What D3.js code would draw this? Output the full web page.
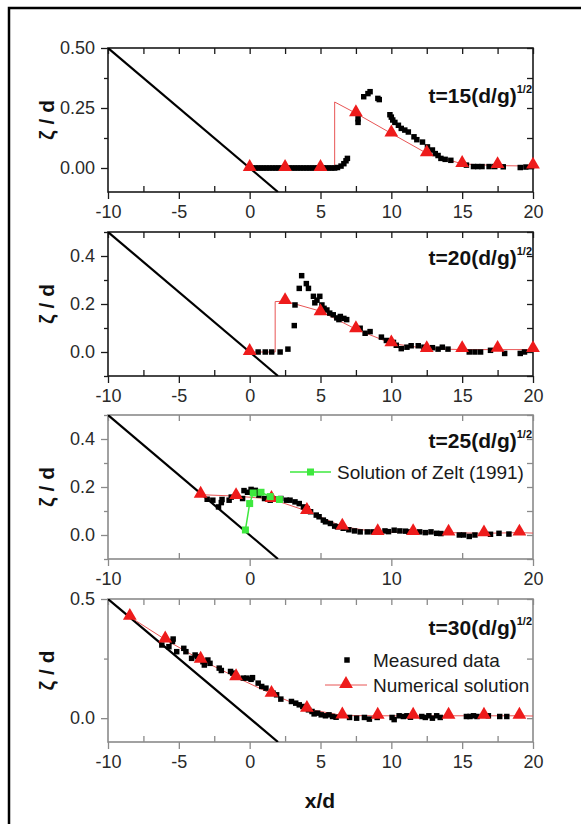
<!DOCTYPE html>
<html><head><meta charset="utf-8">
<script src="https://cdn.jsdelivr.net/npm/d3@7"></script>
<style>body{margin:0;background:#fff} text{font-family:"Liberation Sans",Arial,sans-serif}</style>
</head><body><svg id="c" width="581" height="824"></svg>
<script>
// ---------------- DATA ----------------
const shoreline = [[-10, 0.5], [2, -0.1]];

const xTicksA = [-10, -5, 0, 5, 10, 15, 20];
const xMinorA = [-7.5, -2.5, 2.5, 7.5, 12.5, 17.5];
const xTicksB = [-10, 0, 10, 20];
const xMinorB = [-5, 5, 15];

const yTicks15 = [0, 0.25, 0.5];
const yMinor15 = [0.125, 0.375];
const yTicks20 = [0, 0.2, 0.4];
const yMinor20 = [-0.1, 0.1, 0.3, 0.5];
const yTicks30 = [0, 0.5];
const yMinor30 = [0.25];

const titles = ["t=15", "t=20", "t=25", "t=30"];

const measured15 = [[0.2,0],[0.4,0],[0.6,0],[0.8,0],[1.0,0],[1.2,0],[1.4,0],[1.6,0],[1.8,0],[2.0,0],[2.2,0],[2.4,0],[2.6,0],[2.8,0],[3.0,0],[3.2,0],[3.4,0],[3.6,0],[3.8,0],[4.0,0],[4.2,0],[4.4,0],[4.6,0],[4.8,0],[5.0,0],[5.2,0],[5.4,0],[5.6,0],[5.8,0],[6.0,0],[6.2,0.002],
[6.45,0.008],[6.65,0.018],[6.8,0.03],[6.9,0.04],
[7.65,0.19],[7.65,0.205],[8.05,0.297],[8.35,0.31],[8.5,0.318],[9.05,0.29],[9.15,0.285],
[9.9,0.222],[10.0,0.212],[10.1,0.2],[10.25,0.19],[10.5,0.178],[10.7,0.165],[10.95,0.158],[11.2,0.15],[11.6,0.13],[11.8,0.118],[12.2,0.108],[12.55,0.088],[12.9,0.075],[13.1,0.06],[13.3,0.052],[13.5,0.04],[13.8,0.036],[14.2,0.032],
[15.3,0.012],[15.8,0.006],[16.1,0.006],[16.4,0.006],[16.9,0.006],[17.3,0.006],[17.9,0.005],[19.1,0.002],[19.5,0.004],[19.9,0.006]];
const num15Line = [[0,0],[2.5,0],[5,0],[6,0],[6,0.275],[7.5,0.228],[10,0.144],[12.5,0.061],[15,0.017],[17.5,0.01],[20,0.008]];
const num15Marks = [[0,0],[2.5,0],[5,0],[7.5,0.228],[10,0.144],[12.5,0.061],[15,0.017],[17.5,0.012],[20,0.01]];

const measured20 = [[0.6,0],[1.1,0],[1.55,0],[2.15,0],[2.7,0.012],[3.15,0.11],[3.2,0.196],[3.5,0.265],[3.67,0.318],[4.0,0.285],[4.15,0.265],[4.5,0.232],[4.6,0.205],[4.75,0.216],[4.95,0.232],[5.1,0.196],[5.25,0.182],[5.45,0.175],[5.65,0.162],[5.9,0.155],[6.15,0.142],[6.3,0.135],[6.4,0.148],[6.65,0.14],[6.85,0.135],[7.8,0.099],[8.15,0.078],[8.5,0.085],[9.3,0.062],[9.65,0.048],[10.15,0.04],[10.35,0.028],[10.7,0.014],[11.1,0.02],[11.4,0.026],[11.9,0.026],[12.3,0.02],[12.9,0.018],[13.3,0.012],[13.6,0.02],[14.0,0.012],[15.5,0.0],[15.9,0],[16.3,0],[17.0,0.007],[18.0,-0.006],[19.1,-0.006],[19.4,0]];
const num20Line = [[0,0],[1.8,0],[1.8,0.21],[2.5,0.212],[5,0.17],[7.5,0.095],[10,0.036],[12.5,0.014],[15,0.01],[17.5,0.01],[20,0.01]];
const num20Marks = [[0,0],[2.5,0.212],[5,0.165],[7.5,0.095],[10,0.036],[12.5,0.012],[15,0.012],[17.5,0.013],[20,0.012]];

const measured25 = [[-3.0,0.149],[-2.6,0.145],[-2.2,0.117],[-2.0,0.135],[-1.95,0.148],[-1.45,0.145],[-1.3,0.158],[-0.5,0.152],[-0.4,0.185],[-0.15,0.178],[0.1,0.19],[0.4,0.186],[0.65,0.166],[1.05,0.152],[1.45,0.145],[1.8,0.15],[2.2,0.152],[2.6,0.145],[2.85,0.145],[3.2,0.138],[3.5,0.131],[3.8,0.117],[4.05,0.11],[4.3,0.097],[4.7,0.083],[4.9,0.076],[5.2,0.062],[5.35,0.055],[5.7,0.048],[6.0,0.037],[6.2,0.034],[6.6,0.028],[7.0,0.022],[7.4,0.017],[7.8,0.013],[8.3,0.013],[8.7,0.013],[9.55,0.017],[9.8,0.014],[10.2,0.02],[10.6,0.017],[11.0,0.016],[11.25,0.013],[12.0,0.013],[12.4,0.01],[12.8,0.013],[13.2,0.007],[13.5,0.006],[14.8,0.0],[15.1,0.0],[15.5,-0.006],[15.9,0.0],[17.0,0.003],[17.6,0.007],[18.3,0.004]];
const num25Line = [[-3.46,0.168],[-0.96,0.162],[1.54,0.15],[4.04,0.1],[6.54,0.035],[9.04,0.012],[11.54,0.012],[14.04,0.01],[16.54,0.007],[19.04,0.01],[20,0.008]];
const num25Marks = [[-3.46,0.168],[-0.96,0.162],[1.54,0.15],[4.04,0.1],[6.54,0.035],[9.04,0.012],[11.54,0.012],[14.04,0.01],[16.54,0.007],[19.04,0.01]];
const zelt25 = [[-0.3,0.021],[0,0.131],[0.25,0.175],[0.8,0.178],[1.45,0.16],[2.1,0.148]];

const measured30 = [[-6.2,0.307],[-5.7,0.3],[-5.45,0.322],[-5.4,0.332],[-5.15,0.279],[-4.65,0.293],[-4.5,0.279],[-4.1,0.251],[-3.85,0.265],[-3.7,0.258],[-3.3,0.237],[-3.2,0.223],[-2.95,0.244],[-2.8,0.23],[-2.15,0.21],[-2.0,0.2],[-1.35,0.196],[-1.2,0.189],[-0.95,0.175],[-0.45,0.168],[-0.2,0.168],[0.1,0.163],[0.2,0.17],[0.6,0.147],[0.85,0.133],[1.15,0.126],[1.65,0.105],[1.9,0.098],[2.2,0.08],[2.95,0.07],[3.25,0.063],[3.5,0.056],[3.75,0.049],[4.15,0.035],[4.4,0.028],[4.55,0.018],[4.8,0.021],[5.05,0.014],[5.35,0.01],[5.6,0.014],[5.85,0.007],[6.1,0.004],[7.05,0.003],[7.55,0.0],[8.1,0.003],[8.45,-0.004],[9.0,0.003],[10.05,0.003],[10.2,-0.006],[10.55,0.01],[10.85,0.007],[11.1,0.01],[11.35,0.004],[12.15,0.007],[12.4,0.003],[12.65,0.01],[12.9,0.0],[13.2,0.01],[13.45,0.003],[15.3,0.007],[15.55,0.007],[15.8,0.01],[16.05,0.007],[16.85,0.01],[17.65,0.007],[18.15,0.007]];
const num30Line = [[-8.46,0.425],[-5.96,0.33],[-3.46,0.245],[-0.96,0.172],[1.54,0.102],[4.04,0.039],[6.54,0.011],[9.04,0.01],[11.54,0.01],[14.04,0.01],[16.54,0.01],[19.04,0.01],[20,0.009]];
const num30Marks = [[-8.46,0.425],[-5.96,0.33],[-3.46,0.245],[-0.96,0.172],[1.54,0.102],[4.04,0.039],[6.54,0.011],[9.04,0.01],[11.54,0.01],[14.04,0.01],[16.54,0.01],[19.04,0.01]];

const legendLabels = ["Solution of Zelt (1991)", "Measured data", "Numerical solution"];

// ---------------- DRAW ----------------
const svg = d3.select("#c");
svg.append("rect").attr("width", 581).attr("height", 824).attr("fill", "#fff");
svg.append("path").attr("d", "M9,824 V8 H581").attr("fill", "none").attr("stroke", "#000").attr("stroke-width", 2.5);

const L = 108, R = 533;
const RED = "#ee1b1b", REDLINE = "#e85555", GREEN = "#3ee83e";

const panels = [
  {top: 48, bottom: 192, m: measured15, nl: num15Line, nm: num15Marks, yT: yTicks15, yM: yMinor15, fmt: d3.format(".2f"), xT: xTicksA, xM: xMinorA, title: titles[0], tY: 103, col: "#1a1a1a"},
  {top: 232, bottom: 376, m: measured20, nl: num20Line, nm: num20Marks, yT: yTicks20, yM: yMinor20, fmt: d3.format(".1f"), xT: xTicksA, xM: xMinorA, title: titles[1], tY: 265, col: "#1a1a1a"},
  {top: 415, bottom: 559, m: measured25, nl: num25Line, nm: num25Marks, yT: yTicks20, yM: yMinor20, fmt: d3.format(".1f"), xT: xTicksB, xM: xMinorB, title: titles[2], tY: 448, col: "#8a8a8a", zelt: zelt25},
  {top: 599, bottom: 742, m: measured30, nl: num30Line, nm: num30Marks, yT: yTicks30, yM: yMinor30, fmt: d3.format(".1f"), xT: xTicksA, xM: xMinorA, title: titles[3], tY: 635, col: "#8a8a8a"}
];

const tri = d3.symbol().type(d3.symbolTriangle).size(82);
const sq = d3.symbol().type(d3.symbolSquare).size(30);
const xFmt = d => String(d);

panels.forEach((p, i) => {
  const x = d3.scaleLinear().domain([-10, 20]).range([L, R]);
  const y = d3.scaleLinear().domain([-0.1, 0.5]).range([p.bottom, p.top]);
  const g = svg.append("g");
  const cid = "clip" + i;
  g.append("clipPath").attr("id", cid).append("rect")
    .attr("x", L).attr("y", p.top).attr("width", R - L).attr("height", p.bottom - p.top);

  const styleAxis = (sel) => {
    sel.select(".domain").remove();
    sel.selectAll(".tick line").attr("stroke", p.col).attr("stroke-width", 1.3);
    sel.selectAll(".tick text").attr("fill", "#2a2a2a").style("font-size", "18px").style("font-family", '"Liberation Sans",Arial,sans-serif');
  };
  g.append("g").attr("transform", `translate(0,${p.bottom})`)
    .call(d3.axisBottom(x).tickValues(p.xT).tickSize(7).tickPadding(6).tickFormat(xFmt)).call(styleAxis);
  g.append("g").attr("transform", `translate(0,${p.bottom})`)
    .call(d3.axisBottom(x).tickValues(p.xM).tickSize(-6).tickFormat("")).call(styleAxis);
  g.append("g").attr("transform", `translate(0,${p.top})`)
    .call(d3.axisTop(x).tickValues(p.xT.concat(p.xM)).tickSize(-6).tickFormat("")).call(styleAxis);
  g.append("g").attr("transform", `translate(${L},0)`)
    .call(d3.axisLeft(y).tickValues(p.yT).tickSize(7).tickPadding(6).tickFormat(p.fmt)).call(styleAxis);
  g.append("g").attr("transform", `translate(${L},0)`)
    .call(d3.axisLeft(y).tickValues(p.yM).tickSize(4).tickFormat("")).call(styleAxis);
  g.append("g").attr("transform", `translate(${R},0)`)
    .call(d3.axisRight(y).tickValues(p.yT.concat(p.yM)).tickSize(-6).tickFormat("")).call(styleAxis);
  g.append("rect").attr("x", L).attr("y", p.top).attr("width", R - L).attr("height", p.bottom - p.top)
    .attr("fill", "none").attr("stroke", p.col).attr("stroke-width", 1.6);

  const line = d3.line().x(d => x(d[0])).y(d => y(d[1]));
  const plot = g.append("g").attr("clip-path", `url(#${cid})`);
  plot.append("path").attr("d", line(shoreline)).attr("stroke", "#000").attr("stroke-width", 2.2).attr("fill", "none");
  plot.append("path").attr("d", line(p.nl)).attr("stroke", REDLINE).attr("stroke-width", 1).attr("fill", "none");
  g.append("g").selectAll("path").data(p.m).join("path")
    .attr("d", sq).attr("transform", d => `translate(${x(d[0])},${y(d[1])})`).attr("fill", "#000");
  g.append("g").selectAll("path").data(p.nm).join("path")
    .attr("d", tri).attr("transform", d => `translate(${x(d[0])},${y(d[1]) - 1})`).attr("fill", RED);
  if (p.zelt) {
    plot.append("path").attr("d", line(p.zelt)).attr("stroke", GREEN).attr("stroke-width", 1.5).attr("fill", "none");
    g.append("g").selectAll("rect").data(p.zelt).join("rect")
      .attr("x", d => x(d[0]) - 3.5).attr("y", d => y(d[1]) - 3.5).attr("width", 7).attr("height", 7).attr("fill", GREEN);
  }

  const t = g.append("text").attr("x", R - 1).attr("y", p.tY).attr("text-anchor", "end")
    .style("font-weight", "bold").style("font-size", "21px").attr("fill", "#111");
  t.append("tspan").text(p.title + "(d/g)");
  t.append("tspan").attr("dy", -10).style("font-size", "11px").text("1/2");

  g.append("text").attr("transform", `translate(47,${(p.top + p.bottom) / 2}) rotate(-90)`)
    .attr("text-anchor", "middle").attr("dy", "0.35em")
    .style("font-weight", "bold").style("font-size", "21px").attr("fill", "#111").text("ζ / d");
});

{
  const ly = 472;
  svg.append("line").attr("x1", 290).attr("x2", 331).attr("y1", ly).attr("y2", ly).attr("stroke", GREEN).attr("stroke-width", 1.5);
  svg.append("rect").attr("x", 307).attr("y", ly - 3.5).attr("width", 7).attr("height", 7).attr("fill", GREEN);
  svg.append("text").attr("x", 337).attr("y", ly + 7).style("font-size", "19px").attr("fill", "#1a1a1a").text(legendLabels[0]);
}
{
  const ly1 = 660, ly2 = 685;
  svg.append("path").attr("d", sq).attr("transform", `translate(347,${ly1})`).attr("fill", "#000");
  svg.append("text").attr("x", 373).attr("y", ly1 + 7).style("font-size", "19px").attr("fill", "#1a1a1a").text(legendLabels[1]);
  svg.append("line").attr("x1", 325).attr("x2", 367).attr("y1", ly2).attr("y2", ly2).attr("stroke", REDLINE).attr("stroke-width", 1);
  svg.append("path").attr("d", tri).attr("transform", `translate(346,${ly2 - 1})`).attr("fill", RED);
  svg.append("text").attr("x", 373).attr("y", ly2 + 7).style("font-size", "19px").attr("fill", "#1a1a1a").text(legendLabels[2]);
}
svg.append("text").attr("x", 320).attr("y", 808).attr("text-anchor", "middle")
  .style("font-weight", "bold").style("font-size", "21px").attr("fill", "#111").text("x/d");
</script></body></html>
